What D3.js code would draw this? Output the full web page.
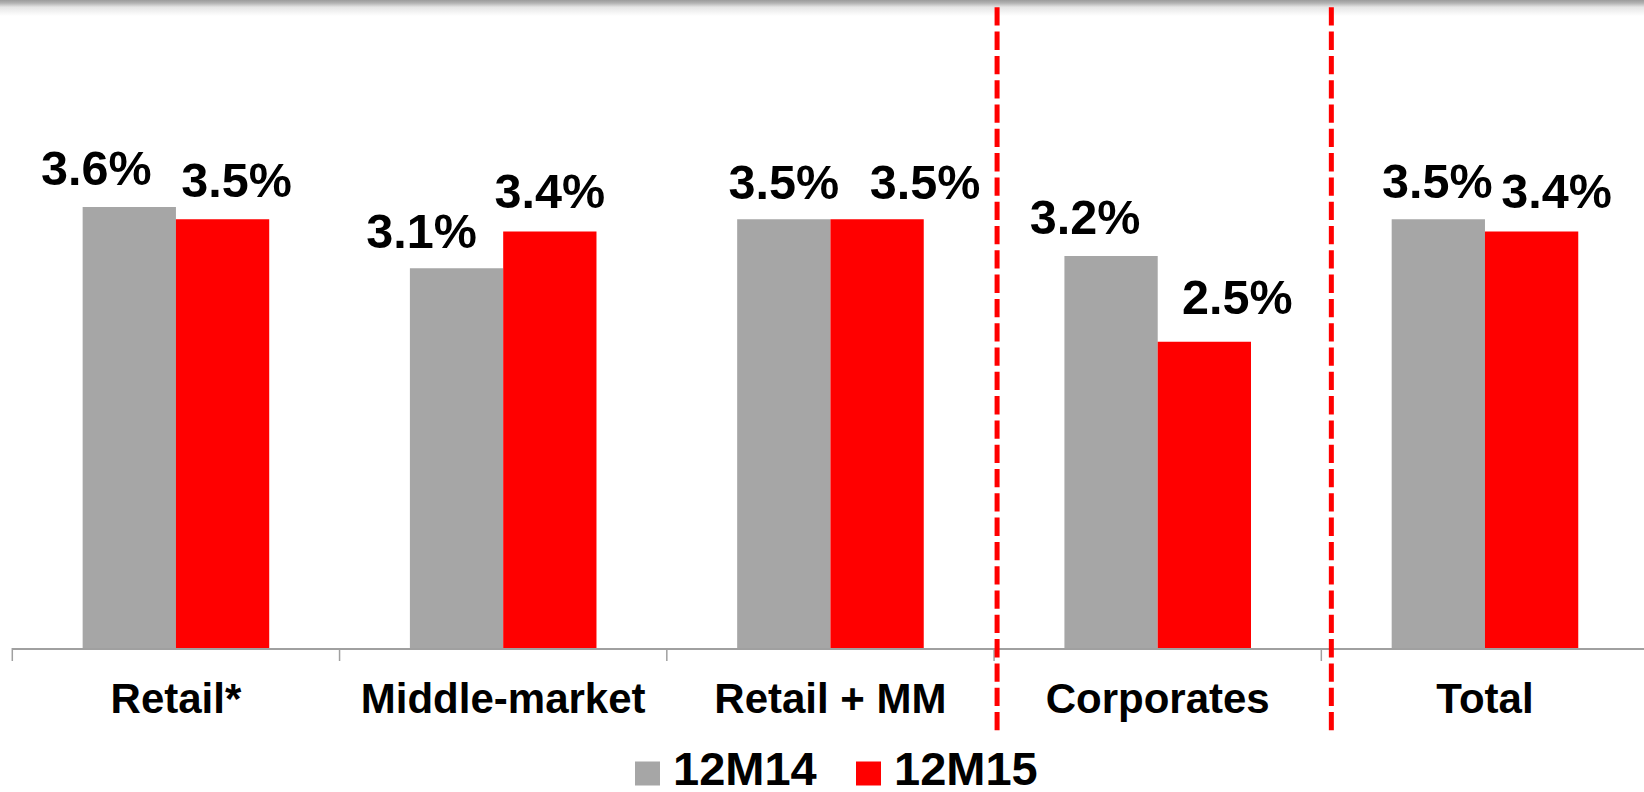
<!DOCTYPE html>
<html>
<head>
<meta charset="utf-8">
<script src="https://cdn.jsdelivr.net/npm/d3@7"></script>
<style>
  html, body { margin: 0; padding: 0; background: #fff; overflow: hidden; }
  svg { display: block; }
  text { font-family: "Liberation Sans", Arial, Helvetica, sans-serif; font-weight: bold; fill: #000; }
</style>
</head>
<body>
<svg id="chart" width="1644" height="792"></svg>
<script>
// Segment margin, 12-month periods
const categories = ["Retail*", "Middle-market", "Retail + MM", "Corporates", "Total"];
const seriesNames = ["12M14", "12M15"];
const values12M14 = [3.6, 3.1, 3.5, 3.2, 3.5];
const values12M15 = [3.5, 3.4, 3.5, 2.5, 3.4];
const seriesColors = ["#a6a6a6", "#ff0000"];

// Hand-placed value labels: horizontal shift from bar centre, gap above bar top
const labelDx = [[-33, -35, 0, -26, -1], [14, 0, 48, 33, 25]];
const labelGap = [[22, 20, 20, 22, 21], [22, 24, 20, 28, 24]];

// Dashed separators sit just after these category boundaries
const separatorsBefore = ["Corporates", "Total"];
const separatorShift = [3, 10];

const W = 1644, H = 792;
const baseY = 648;
const svg = d3.select("#chart");

// Soft grey rule along the top edge
const defs = svg.append("defs");
const grad = defs.append("linearGradient")
  .attr("id", "topShade").attr("x1", 0).attr("y1", 0).attr("x2", 0).attr("y2", 1);
grad.append("stop").attr("offset", "0%").attr("stop-color", "#9c9c9c");
grad.append("stop").attr("offset", "20%").attr("stop-color", "#b4b4b4");
grad.append("stop").attr("offset", "45%").attr("stop-color", "#e6e6e6");
grad.append("stop").attr("offset", "100%").attr("stop-color", "#ffffff");
svg.append("rect").attr("x", 0).attr("y", 0).attr("width", W).attr("height", 16)
  .attr("fill", "url(#topShade)");

// Scales
const x = d3.scaleBand().domain(categories).range([12.3, 1648.6]).padding(0);
const x1 = d3.scaleBand().domain(seriesNames).range([0, x.bandwidth()])
  .paddingInner(0).paddingOuter(0.754);
const y = d3.scaleLinear().domain([0, 4]).range([baseY, baseY - 4 * 122.5]);

const seriesValues = [values12M14, values12M15];
const rows = [];
seriesNames.forEach((s, si) => {
  categories.forEach((c, ci) => {
    rows.push({ series: s, si, cat: c, ci, value: seriesValues[si][ci] });
  });
});

// Bars
svg.append("g").selectAll("rect").data(rows).join("rect")
  .attr("x", d => x(d.cat) + x1(d.series))
  .attr("y", d => y(d.value))
  .attr("width", x1.bandwidth())
  .attr("height", d => y(0) - y(d.value))
  .attr("fill", d => seriesColors[d.si]);

// Category axis: baseline with ticks at band edges
const axisG = svg.append("g");
axisG.append("line")
  .attr("x1", x.range()[0]).attr("x2", W)
  .attr("y1", baseY + 1).attr("y2", baseY + 1)
  .attr("stroke", "#a0a0a0").attr("stroke-width", 2);
axisG.selectAll("line.tick").data(categories).join("line")
  .attr("class", "tick")
  .attr("x1", d => x(d)).attr("x2", d => x(d))
  .attr("y1", baseY).attr("y2", baseY + 13)
  .attr("stroke", "#a0a0a0").attr("stroke-width", 1.5);
axisG.selectAll("text").data(categories).join("text")
  .attr("x", d => x(d) + x.bandwidth() / 2)
  .attr("y", 713)
  .attr("text-anchor", "middle")
  .attr("font-size", 42)
  .text(d => d);

// Value labels
svg.append("g").selectAll("text").data(rows).join("text")
  .attr("x", d => x(d.cat) + x1(d.series) + x1.bandwidth() / 2 + labelDx[d.si][d.ci])
  .attr("y", d => y(d.value) - labelGap[d.si][d.ci])
  .attr("text-anchor", "middle")
  .attr("font-size", 48.5)
  .text(d => d.value.toFixed(1) + "%");

// Red dashed separators
svg.append("g").selectAll("line").data(separatorsBefore).join("line")
  .attr("x1", (d, i) => x(d) + separatorShift[i])
  .attr("x2", (d, i) => x(d) + separatorShift[i])
  .attr("y1", 7.3).attr("y2", 736)
  .attr("stroke", "#ff0000").attr("stroke-width", 5)
  .attr("stroke-dasharray", "18.3,6");

// Legend
const legendX = [635, 856];
const leg = svg.append("g").selectAll("g").data(seriesNames).join("g")
  .attr("transform", (d, i) => `translate(${legendX[i]},0)`);
leg.append("rect").attr("x", 0).attr("y", 761.5).attr("width", 25).attr("height", 24)
  .attr("fill", (d, i) => seriesColors[i]);
leg.append("text").attr("x", 38).attr("y", 785).attr("font-size", 47).text(d => d);
</script>
</body>
</html>
